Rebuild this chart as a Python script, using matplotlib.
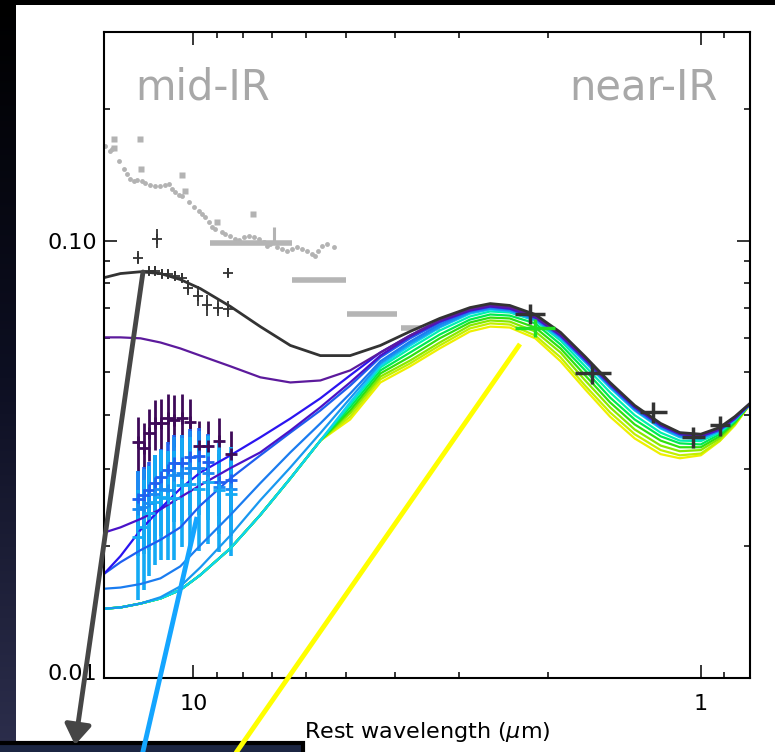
import numpy as np
import matplotlib
matplotlib.use('Agg')
import matplotlib.pyplot as plt
from matplotlib.patches import Rectangle, FancyArrowPatch
from matplotlib.lines import Line2D
from matplotlib.colors import LinearSegmentedColormap
from matplotlib.ticker import NullFormatter
from matplotlib.transforms import ScaledTranslation

# ---- data (rest wavelength in micron, flux in arbitrary units) ----
lam_grid = [15.0, 13.92, 12.71, 11.61, 10.61, 9.69, 8.45, 7.38, 6.44, 5.62,
            4.91, 4.28, 3.74, 3.27, 2.85, 2.60, 2.38, 2.12, 1.89, 1.69,
            1.51, 1.35, 1.20, 1.10, 1.00, 0.918, 0.857, 0.801]

model_black = [0.0823, 0.0841, 0.0849, 0.0841, 0.0815, 0.0777, 0.0707, 0.0636, 0.0576, 0.0546,
               0.0546, 0.0576, 0.0620, 0.0664, 0.0703, 0.0718, 0.0711, 0.0678, 0.0617, 0.0543,
               0.0474, 0.0420, 0.0382, 0.0364, 0.0361, 0.0374, 0.0396, 0.0424]
model_purple = [0.0601, 0.0601, 0.0598, 0.0585, 0.0567, 0.0546, 0.0516, 0.0487, 0.0474, 0.0479,
                0.0505, 0.0555, 0.0607, 0.0657, 0.0696, 0.0711, 0.0703, 0.0671, 0.0610, 0.0538,
                0.0471, 0.0418, 0.0380, 0.0363, 0.0359, 0.0372, 0.0394, 0.0424]
model_darkblue = [0.0173, 0.0190, 0.0218, 0.0244, 0.0271, 0.0295, 0.0323, 0.0355, 0.0392, 0.0436,
                  0.0492, 0.0555, 0.0607, 0.0657, 0.0696, 0.0711, 0.0703, 0.0671, 0.0610, 0.0538,
                  0.0471, 0.0418, 0.0380, 0.0363, 0.0359, 0.0372, 0.0394, 0.0424]
model_indigo = [0.0215, 0.0221, 0.0231, 0.0243, 0.0259, 0.0276, 0.0302, 0.0328, 0.0368, 0.0416,
                0.0474, 0.0546, 0.0604, 0.0653, 0.0692, 0.0707, 0.0699, 0.0667, 0.0607, 0.0535,
                0.0469, 0.0416, 0.0378, 0.0361, 0.0357, 0.0370, 0.0392, 0.0422]
model_blue = [0.0173, 0.0184, 0.0196, 0.0207, 0.0221, 0.0248, 0.0286, 0.0323, 0.0364, 0.0409,
              0.0466, 0.0541, 0.0598, 0.0650, 0.0692, 0.0707, 0.0699, 0.0667, 0.0607, 0.0535,
              0.0469, 0.0416, 0.0378, 0.0361, 0.0357, 0.0370, 0.0392, 0.0422]
model_azure = [0.0160, 0.0161, 0.0164, 0.0169, 0.0180, 0.0201, 0.0236, 0.0279, 0.0328, 0.0382,
               0.0447, 0.0530, 0.0588, 0.0643, 0.0689, 0.0703, 0.0696, 0.0664, 0.0604, 0.0532,
               0.0466, 0.0413, 0.0376, 0.0359, 0.0355, 0.0368, 0.0392, 0.0422]
model_sky = [0.0144, 0.0145, 0.0148, 0.0153, 0.0162, 0.0179, 0.0212, 0.0255, 0.0303, 0.0363,
             0.0436, 0.0524, 0.0582, 0.0636, 0.0685, 0.0699, 0.0692, 0.0660, 0.0601, 0.0530,
             0.0464, 0.0411, 0.0374, 0.0357, 0.0353, 0.0368, 0.0390, 0.0422]
model_cyan = [0.0144, 0.0145, 0.0148, 0.0152, 0.0159, 0.0172, 0.0198, 0.0236, 0.0286, 0.0349,
              0.0427, 0.0518, 0.0576, 0.0633, 0.0681, 0.0696, 0.0689, 0.0657, 0.0598, 0.0527,
              0.0461, 0.0409, 0.0372, 0.0355, 0.0351, 0.0366, 0.0390, 0.0422]

# the green/yellow models run under the cyan one in the mid-IR
mir_shared = [0.0144, 0.0145, 0.0148, 0.0152, 0.0159, 0.0172, 0.0198, 0.0236, 0.0286, 0.0349]
model_aqua = mir_shared + [0.0422, 0.0513, 0.0567, 0.0623, 0.0671, 0.0689, 0.0685, 0.0657, 0.0591,
                           0.0516, 0.0450, 0.0399, 0.0364, 0.0349, 0.0348, 0.0364, 0.0388, 0.0422]
model_green = mir_shared + [0.0416, 0.0505, 0.0555, 0.0610, 0.0660, 0.0678, 0.0674, 0.0647, 0.0579,
                            0.0505, 0.0438, 0.0390, 0.0357, 0.0344, 0.0342, 0.0361, 0.0386, 0.0422]
model_green2 = mir_shared + [0.0409, 0.0497, 0.0543, 0.0598, 0.0650, 0.0667, 0.0664, 0.0633, 0.0567,
                             0.0492, 0.0427, 0.0380, 0.0349, 0.0337, 0.0337, 0.0357, 0.0384, 0.0422]
model_lime = mir_shared + [0.0403, 0.0489, 0.0532, 0.0585, 0.0640, 0.0657, 0.0653, 0.0620, 0.0555,
                           0.0479, 0.0416, 0.0370, 0.0340, 0.0330, 0.0332, 0.0353, 0.0382, 0.0422]
model_yellowgreen = mir_shared + [0.0396, 0.0482, 0.0524, 0.0576, 0.0630, 0.0647, 0.0643, 0.0607, 0.0541,
                                  0.0466, 0.0405, 0.0361, 0.0332, 0.0323, 0.0326, 0.0349, 0.0380, 0.0422]
model_yellow = mir_shared + [0.0390, 0.0474, 0.0516, 0.0567, 0.0620, 0.0636, 0.0633, 0.0598, 0.0530,
                             0.0457, 0.0396, 0.0353, 0.0325, 0.0318, 0.0323, 0.0348, 0.0378, 0.0422]

# grey mid-IR spectrum
spec_lam = [14.90, 14.57, 14.46, 14.03, 13.72, 13.51, 13.31, 13.11, 12.91, 12.62,
            12.43, 12.15, 11.88, 11.61, 11.35, 11.18, 11.01, 10.85, 10.69, 10.52,
            10.21, 9.99, 9.76, 9.61, 9.47, 9.33, 9.19, 9.05, 8.78, 8.65,
            8.46, 8.27, 8.14, 7.96, 7.78, 7.61, 7.44, 7.27, 7.16, 7.06,
            6.84, 6.69, 6.54, 6.39, 6.25, 6.11, 5.97, 5.84, 5.75, 5.67,
            5.58, 5.45, 5.29]
spec_f = [0.1648, 0.1605, 0.1620, 0.1523, 0.1458, 0.1420, 0.1383, 0.1366, 0.1376, 0.1371,
          0.1354, 0.1340, 0.1330, 0.1335, 0.1340, 0.1347, 0.1312, 0.1289, 0.1274, 0.1267,
          0.1223, 0.1191, 0.1171, 0.1151, 0.1130, 0.1101, 0.1072, 0.1063, 0.1045, 0.1036,
          0.1027, 0.1009, 0.1005, 0.1017, 0.1027, 0.1017, 0.1009, 0.0991, 0.0974, 0.0983,
          0.0965, 0.0957, 0.0949, 0.0957, 0.0965, 0.0957, 0.0949, 0.0932, 0.0924, 0.0949,
          0.0974, 0.0983, 0.0965]
spec_sq_lam = [14.35, 14.35, 12.76, 12.68, 10.52, 10.37, 8.98, 7.63]
spec_sq_f = [0.1707, 0.1633, 0.1707, 0.1458, 0.1413, 0.1301, 0.1101, 0.1151]
spec_bar_lam, spec_bar_f, spec_bar_err = 6.95, 0.1027, 0.0045

# grey broad-band photometry
band_lo = [6.38, 5.00, 3.97, 3.27]
band_hi = [9.26, 6.38, 4.98, 3.90]
band_f = [0.0988, 0.0815, 0.0681, 0.0630]

# black mid-IR photometry
mir_lam = [12.83, 11.77, 12.21, 11.88, 11.51, 11.20, 10.85, 10.51, 10.23, 9.78, 9.39, 8.93, 8.53, 8.53]
mir_f = [0.0915, 0.1011, 0.0854, 0.0854, 0.0841, 0.0837, 0.0832, 0.0823, 0.0781, 0.0749, 0.0711, 0.0703, 0.0699, 0.0845]
mir_err = [0.003, 0.005, 0.002, 0.002, 0.002, 0.002, 0.002, 0.002, 0.003, 0.004, 0.004, 0.003, 0.003, 0.002]

# coloured mid-IR photometry
col_lam = [12.83, 12.49, 12.21, 11.88, 11.56, 11.20, 10.90, 10.51, 10.14, 9.73, 9.34, 8.89, 8.42]
purple_f = [0.0346, 0.0335, 0.0363, 0.0382, 0.0382, 0.0394, 0.0390, 0.0394, 0.0384, 0.0339, 0.0340, 0.0349, 0.0325]
purple_err = [0.0050, 0.0048, 0.0050, 0.0050, 0.0053, 0.0052, 0.0053, 0.0052, 0.0050, 0.0048, 0.0046, 0.0044, 0.0042]
b1_f = [0.0256, 0.0262, 0.0269, 0.0279, 0.0288, 0.0299, 0.0310, 0.0310, 0.0320, 0.0321, 0.0311, 0.0280, 0.0283]
b1_err = [0.0041, 0.0042, 0.0043, 0.0045, 0.0046, 0.0048, 0.0050, 0.0050, 0.0051, 0.0051, 0.0050, 0.0045, 0.0045]
b2_f = [0.0244, 0.0246, 0.0251, 0.0264, 0.0271, 0.0269, 0.0291, 0.0294, 0.0302, 0.0302, 0.0295, 0.0273, 0.0271]
b2_err = [0.0054, 0.0054, 0.0055, 0.0058, 0.0060, 0.0059, 0.0064, 0.0065, 0.0066, 0.0066, 0.0065, 0.0060, 0.0060]
b3_f = [0.0210, 0.0221, 0.0238, 0.0252, 0.0259, 0.0258, 0.0258, 0.0276, 0.0277, 0.0271, 0.0280, 0.0269, 0.0264]
b3_err = [0.0059, 0.0062, 0.0067, 0.0071, 0.0073, 0.0072, 0.0072, 0.0077, 0.0078, 0.0076, 0.0078, 0.0075, 0.0074]

# near-IR photometry
nir_lam = [2.17, 1.64, 1.243, 1.037, 0.918]
nir_f = [0.0681, 0.0497, 0.0405, 0.0355, 0.0378]
nir_xlo = [0.14, 0.14, 0.077, 0.055, 0.041]
nir_xhi = [0.15, 0.13, 0.075, 0.053, 0.042]
nir_ferr = [0.0035, 0.0026, 0.0022, 0.0019, 0.0020]
gnir_lam, gnir_f = 2.12, 0.0633
gnir_xlo, gnir_xhi, gnir_ferr = 0.18, 0.20, 0.003

W, H = 775, 752


def fxy(x, y):
    # pixel position on the slide -> figure fraction
    return x / W, 1 - y / H


fig = plt.figure(figsize=(W / 100, H / 100), dpi=100, facecolor='black')

# slide background: white panel, dark gradient strip on the left
fig.add_artist(Rectangle((16 / W, 0), 1 - 16 / W, 1 - 5 / H, transform=fig.transFigure,
                         facecolor='white', edgecolor='none', zorder=-5))
gax = fig.add_axes([0, 0, 16 / W, 1 - 5 / H])
bg = LinearSegmentedColormap.from_list('bg', ['#000000', '#0d0f22', '#2c2e4c'])
gax.imshow(np.linspace(0, 1, 256).reshape(-1, 1), aspect='auto', cmap=bg)
gax.axis('off')

ax = fig.add_axes([104 / W, 1 - 678 / H, 646 / W, 646 / H])
ax.set_xscale('log')
ax.set_yscale('log')

# grey data
ax.plot(spec_lam, spec_f, 'o', ms=3.5, color='#b3b3b3', mec='none')
ax.plot(spec_sq_lam, spec_sq_f, 's', ms=4, color='#b3b3b3', mec='none')
ax.errorbar(spec_bar_lam, spec_bar_f, yerr=spec_bar_err, fmt='none', ecolor='#b3b3b3', elinewidth=2.2)
ax.hlines(band_f, band_lo, band_hi, color='#b5b5b5', lw=4)

# coloured mid-IR photometry
ax.errorbar(col_lam, purple_f, yerr=purple_err, fmt='+', color='#3e0a58', ms=8, mew=2, elinewidth=2)
for f, e, c in [(b1_f, b1_err, '#2060f0'), (b2_f, b2_err, '#1a8af2'), (b3_f, b3_err, '#14aaf4')]:
    ax.errorbar(col_lam, f, yerr=e, fmt='+', color=c, ms=8, mew=2, elinewidth=2.6)

# model curves, drawn bottom to top
models = [(model_yellow, '#eef000'), (model_yellowgreen, '#c0f000'), (model_lime, '#88e800'),
          (model_green2, '#30e010'), (model_green, '#00ea50'), (model_aqua, '#00f0b0'),
          (model_cyan, '#10d0f0'), (model_sky, '#1898f0'), (model_azure, '#1a7cf0'),
          (model_blue, '#1e5ef0'), (model_indigo, '#4a12c8'), (model_darkblue, '#2a14f0'),
          (model_purple, '#5c1a9c')]
for m, c in models:
    ax.plot(lam_grid, m, color=c, lw=1.6)
ax.plot(lam_grid, model_black, color='#333333', lw=2)

# black photometry
ax.errorbar(mir_lam, mir_f, yerr=mir_err, fmt='+', color='#333333', ms=7, mew=1.3, elinewidth=1.3)
ax.errorbar(gnir_lam, gnir_f, xerr=[[gnir_xlo], [gnir_xhi]], yerr=gnir_ferr,
            fmt='none', ecolor='#22e022', elinewidth=2.5)
ax.errorbar(nir_lam, nir_f, xerr=[nir_xlo, nir_xhi], yerr=nir_ferr,
            fmt='none', ecolor='#333333', elinewidth=2.5)

ax.set_xlim(15.0, 0.80)
ax.set_ylim(0.01, 0.30)
ax.set_xticks([10, 1])
ax.set_xticklabels(['10', '1'])
ax.set_xticks([9, 8, 7, 6, 5, 4, 3, 2, 0.9], minor=True)
ax.xaxis.set_minor_formatter(NullFormatter())
ax.set_yticks([0.01, 0.1])
ax.set_yticklabels(['0.01', '0.10'])
ax.set_yticks([0.02, 0.03, 0.04, 0.05, 0.06, 0.07, 0.08, 0.09, 0.2], minor=True)
ax.yaxis.set_minor_formatter(NullFormatter())
ax.tick_params(which='both', direction='in', top=True, right=True, width=1.1, color='black')
ax.tick_params(which='major', length=9.5, labelsize=16)
ax.tick_params(which='minor', length=4.5)
ax.tick_params(axis='x', which='major', pad=11.5)
ax.tick_params(axis='y', which='major', pad=5)
for s in ax.spines.values():
    s.set_linewidth(1.5)
ax.set_xlabel('Rest wavelength ($\\mu$m)', fontsize=16, labelpad=4)

# the lowest y label sits a little above its tick, as in the original
lab = ax.yaxis.get_major_ticks()[0].label1
lab.set_transform(lab.get_transform() + ScaledTranslation(0, 6 / 100, fig.dpi_scale_trans))

ax.text(0.048, 0.895, 'mid-IR', transform=ax.transAxes, fontsize=30, color='#a8a8a8',
        ha='left', va='baseline')
ax.text(0.950, 0.895, 'near-IR', transform=ax.transAxes, fontsize=30, color='#a8a8a8',
        ha='right', va='baseline')

# slide annotations drawn over the chart
fig.add_artist(Rectangle(fxy(-5, 765), 308 / W, 22 / H, transform=fig.transFigure,
                         facecolor='#1b2542', edgecolor='black', linewidth=3, zorder=5))
for p0, p1, c in [((197, 517), (141, 760), '#14a5ff'), ((520, 344), (231, 760), '#ffff00')]:
    (x0, y0), (x1, y1) = fxy(*p0), fxy(*p1)
    fig.add_artist(Line2D([x0, x1], [y0, y1], transform=fig.transFigure, color=c, lw=3.5,
                          solid_capstyle='butt', zorder=10))
fig.add_artist(FancyArrowPatch(fxy(143, 272), fxy(75, 745), transform=fig.transFigure,
                               arrowstyle='-|>,head_length=0.6,head_width=0.4', mutation_scale=20,
                               color='#464646', lw=3.5, shrinkA=0, shrinkB=0, zorder=10))

fig.savefig('out.png', dpi=100, facecolor=fig.get_facecolor())
